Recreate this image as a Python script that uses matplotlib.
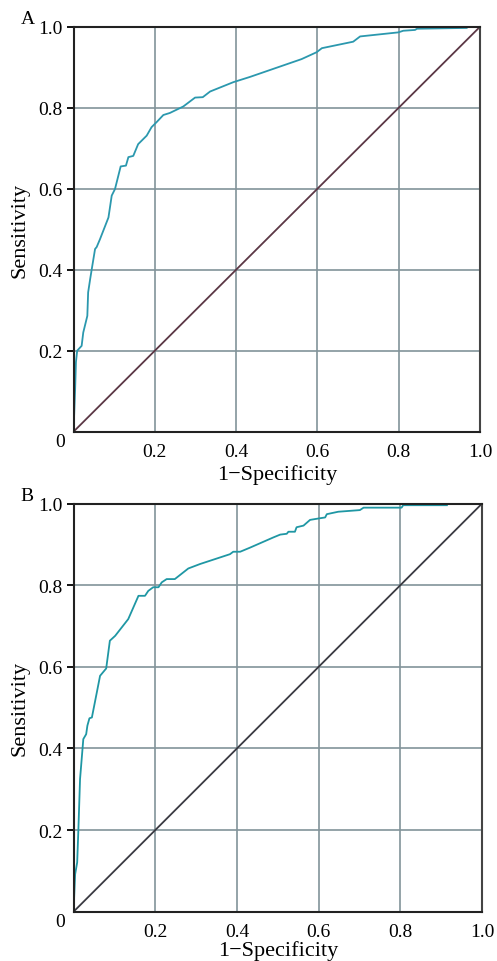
import matplotlib
matplotlib.use('Agg')
import matplotlib.pyplot as plt

plt.rcParams['font.family'] = ['Liberation Serif', 'DejaVu Serif']

# ROC curve A (1-specificity, sensitivity)
fpr_a = [0.0, 0.004, 0.006, 0.009, 0.020, 0.024, 0.034, 0.036, 0.041, 0.045, 0.053,
         0.057, 0.065, 0.086, 0.094, 0.102, 0.116, 0.129, 0.135, 0.147, 0.159, 0.180,
         0.192, 0.205, 0.221, 0.237, 0.270, 0.299, 0.318, 0.336, 0.393, 0.434, 0.561,
         0.598, 0.611, 0.688, 0.705, 0.799, 0.811, 0.840, 0.845, 0.967]
tpr_a = [0.0, 0.105, 0.172, 0.200, 0.212, 0.245, 0.286, 0.344, 0.377, 0.402, 0.451,
         0.456, 0.475, 0.529, 0.583, 0.599, 0.655, 0.657, 0.678, 0.681, 0.710, 0.731,
         0.752, 0.765, 0.782, 0.787, 0.803, 0.825, 0.826, 0.840, 0.863, 0.876, 0.920,
         0.937, 0.947, 0.963, 0.976, 0.986, 0.990, 0.992, 0.995, 0.997]

# ROC curve B
fpr_b = [0.0, 0.004, 0.009, 0.012, 0.016, 0.020, 0.024, 0.031, 0.034, 0.039, 0.045,
         0.057, 0.065, 0.080, 0.089, 0.102, 0.134, 0.159, 0.175, 0.183, 0.195, 0.208,
         0.216, 0.228, 0.248, 0.281, 0.310, 0.383, 0.391, 0.408, 0.432, 0.489, 0.506,
         0.522, 0.526, 0.542, 0.546, 0.563, 0.579, 0.603, 0.616, 0.620, 0.648, 0.701,
         0.710, 0.803, 0.807, 0.914]
tpr_b = [0.0, 0.092, 0.121, 0.203, 0.325, 0.374, 0.423, 0.435, 0.456, 0.474, 0.476,
         0.537, 0.578, 0.596, 0.664, 0.676, 0.717, 0.774, 0.774, 0.786, 0.795, 0.795,
         0.807, 0.815, 0.815, 0.841, 0.852, 0.876, 0.882, 0.882, 0.892, 0.917, 0.924,
         0.926, 0.931, 0.931, 0.942, 0.946, 0.960, 0.964, 0.966, 0.974, 0.980, 0.984,
         0.990, 0.990, 0.996, 0.996]

ticks = [0.2, 0.4, 0.6, 0.8, 1.0]
tick_labels = ['0.2', '0.4', '0.6', '0.8', '1.0']

fig = plt.figure(figsize=(4.97, 9.62), dpi=100)
ax_a = fig.add_axes([0.1479, 0.5502, 0.818, 0.421])
ax_b = fig.add_axes([0.1479, 0.0512, 0.822, 0.4243])

panels = [
    (ax_a, fpr_a, tpr_a, 'A', '#2b98ae', '#5b3745', 3),
    (ax_b, fpr_b, tpr_b, 'B', '#1f97a4', '#3a3a42', 0),
]

for ax, fpr, tpr, letter, curve_col, diag_col, xpad in panels:
    ax.set_xlim(0, 1)
    ax.set_ylim(0, 1)
    ax.grid(True, color='#82939a', linewidth=1.2)
    ax.set_axisbelow(True)
    ax.plot([0, 1], [0, 1], color=diag_col, linewidth=1.3)
    ax.plot(fpr, tpr, color=curve_col, linewidth=1.3)
    ax.set_xticks(ticks)
    ax.set_xticklabels(tick_labels)
    ax.set_yticks(ticks)
    ax.set_yticklabels(tick_labels)
    ax.tick_params(axis='x', length=0, labelsize=14, pad=8)
    ax.tick_params(axis='y', length=5, width=1.3, labelsize=14, pad=3)
    for side in ['left', 'bottom', 'top']:
        ax.spines[side].set_linewidth(1.5)
        ax.spines[side].set_color('#222222')
    ax.spines['right'].set_linewidth(1.5)
    ax.spines['right'].set_color('#444444')
    ax.set_xlabel('1\u2212Specificity', fontsize=16, labelpad=xpad)
    ax.set_ylabel('Sensitivity', fontsize=16, labelpad=6)
    ax.text(-0.022, -0.002, '0', transform=ax.transAxes, ha='right', va='top', fontsize=14)
    ax.text(-0.13, 1.0, letter, transform=ax.transAxes, ha='left', va='bottom', fontsize=14)

fig.savefig('out.png', dpi=100)
